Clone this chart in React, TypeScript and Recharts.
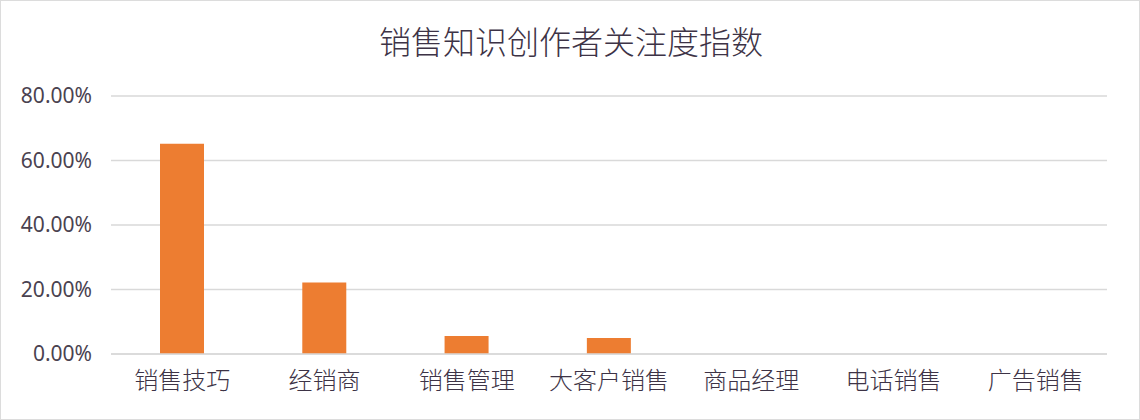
import React from "react";
import { BarChart, Bar, XAxis, YAxis, CartesianGrid } from "recharts";

const categories = ["销售技巧", "经销商", "销售管理", "大客户销售", "商品经理", "电话销售", "广告销售"];
const values = [0.652, 0.222, 0.056, 0.05, 0, 0, 0];
const yTicks = [0, 0.2, 0.4, 0.6, 0.8];
const title = "销售知识创作者关注度指数";

const data = categories.map((name, i) => ({ name, value: values[i] }));

const FONT = '"Noto Sans CJK SC", "Noto Sans", sans-serif';

export default function App() {
  return (
    <div
      style={{
        position: "absolute",
        left: 0,
        top: 0,
        width: 1140,
        height: 420,
        background: "#ffffff",
        boxSizing: "border-box",
        border: "1px solid #dcdcdc",
        fontFamily: FONT,
      }}
    >
      <div
        style={{
          position: "absolute",
          left: 0,
          top: 17,
          width: 1140,
          textAlign: "center",
          fontSize: 32,
          fontWeight: 300,
          lineHeight: "44px",
          color: "#3d3346",
          fontFamily: FONT,
        }}
      >
        {title}
      </div>
      <div style={{ position: "absolute", left: -1, top: -1 }}>
        <BarChart
          width={1140}
          height={420}
          data={data}
          margin={{ top: 96, right: 33, bottom: 26, left: 0 }}
        >
          <CartesianGrid vertical={false} stroke="#d9d9d9" strokeWidth={1.5} />
          <XAxis
            dataKey="name"
            height={40}
            tickLine={false}
            axisLine={{ stroke: "#d9d9d9", strokeWidth: 1.5 }}
            tickMargin={12}
            tick={{ fill: "#3d3346", fontSize: 24, fontWeight: 300, fontFamily: FONT }}
            interval={0}
          />
          <YAxis
            width={111}
            domain={[0, 0.8]}
            ticks={yTicks}
            tickLine={false}
            axisLine={false}
            tickMargin={13}
            tickFormatter={(v: number) => (v * 100).toFixed(2) + "%"}
            tick={{ fill: "#4a4250", fontSize: 21, fontFamily: '"Noto Sans", sans-serif' }}
          />
          <Bar dataKey="value" fill="#ED7D31" barSize={44} isAnimationActive={false} />
        </BarChart>
      </div>
    </div>
  );
}
